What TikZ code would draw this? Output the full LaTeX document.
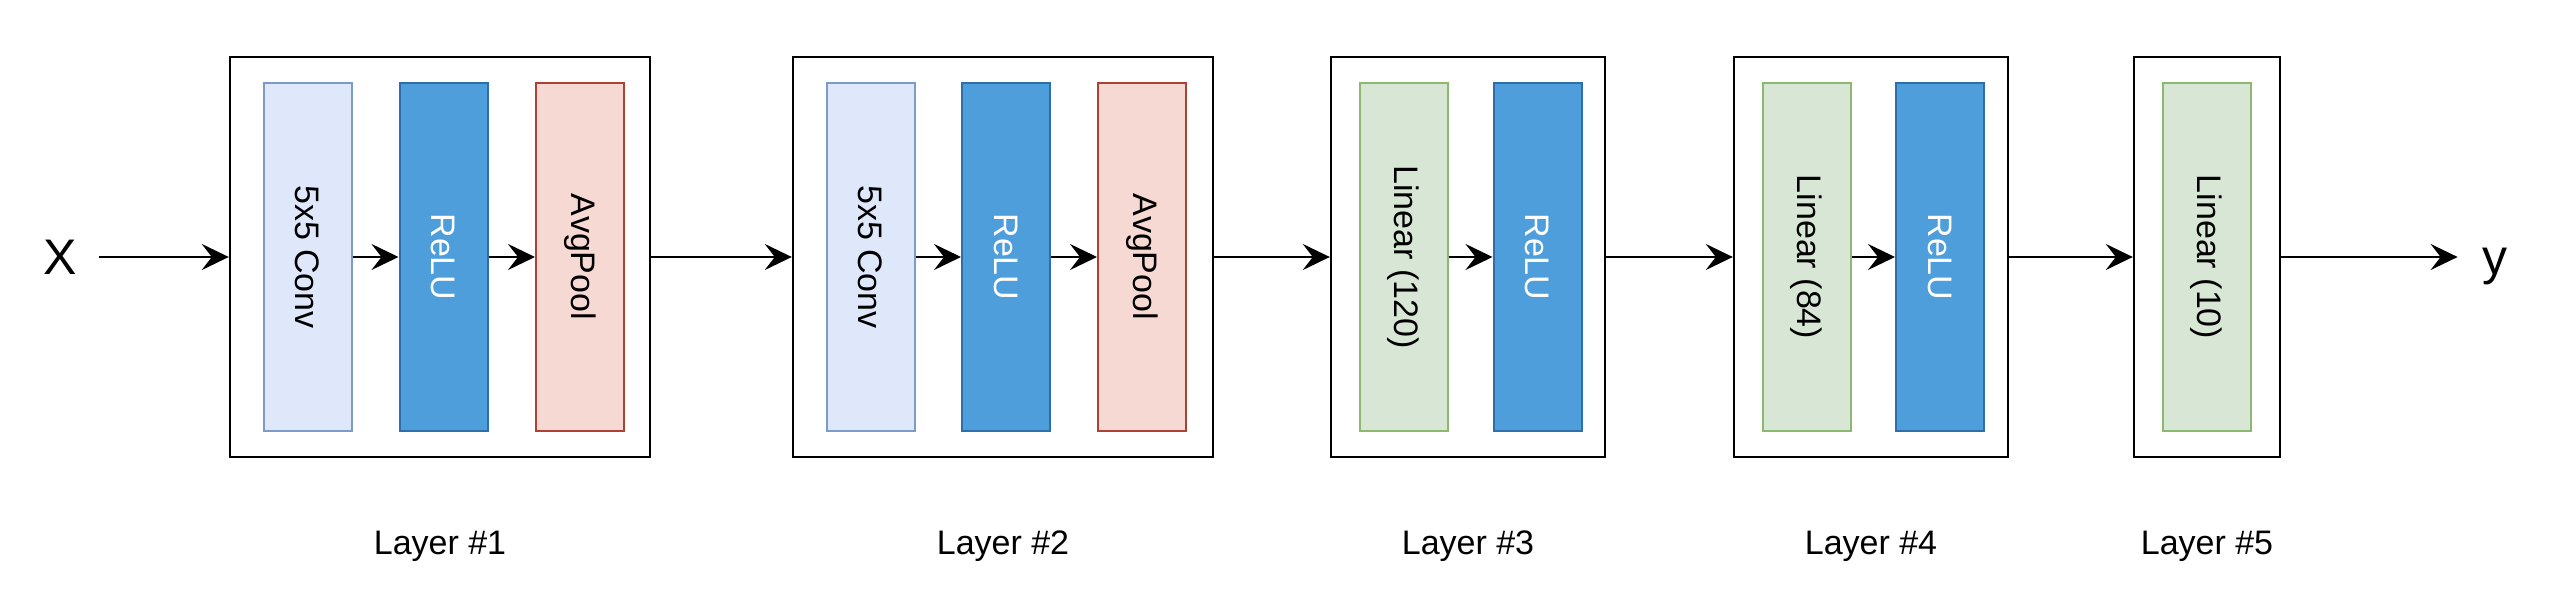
\documentclass[tikz,border=0pt]{standalone}
\usepackage{fontspec}
\setmainfont{Liberation Sans}
\usetikzlibrary{arrows.meta,calc}

\definecolor{convfill}{HTML}{DEE8FA}
\definecolor{convline}{HTML}{7D9BC8}
\definecolor{relufill}{HTML}{4E9EDC}
\definecolor{reluline}{HTML}{2E6EAA}
\definecolor{poolfill}{HTML}{F7D9D4}
\definecolor{poolline}{HTML}{AE4132}
\definecolor{fcfill}{HTML}{D8E7D5}
\definecolor{fcline}{HTML}{8CB96E}

\begin{document}
\begin{tikzpicture}[x=0.5pt,y=-0.5pt,
                    layerbox/.style={draw,line width=1.2pt,minimum height=200pt,inner sep=0pt},
                    block/.style={draw,line width=1pt,minimum width=44pt,minimum height=173.5pt,inner sep=0pt,font=\fontsize{17}{20}\selectfont},
                    convblock/.style={block,fill=convfill,draw=convline},
                    relublock/.style={block,fill=relufill,draw=reluline,text=white},
                    poolblock/.style={block,fill=poolfill,draw=poolline},
                    fcblock/.style={block,fill=fcfill,draw=fcline},
                    io/.style={inner sep=0pt,text height=17.9pt,text depth=0pt,font=\fontsize{25}{30}\selectfont},
                    caption/.style={inner sep=0pt,font=\fontsize{17}{20}\selectfont},
                    conn/.style={-{Stealth[length=13.5pt,width=13pt,inset=5pt]},line width=1.2pt}
]
\useasboundingbox (0,0) rectangle (2552,614);

\node [layerbox,minimum width=210pt] at (440,257) (l1) {};
\node [layerbox,minimum width=210pt] at (1003,257) (l2) {};
\node [layerbox,minimum width=137pt] at (1468,257) (l3) {};
\node [layerbox,minimum width=137pt] at (1871,257) (l4) {};
\node [layerbox,minimum width=73pt] at (2207,257) (l5) {};

\node [convblock] at (307.5,257) (conv1) {\rotatebox{-90}{5x5 Conv}};
\node [relublock] at (443.5,257) (relu1) {\rotatebox{-90}{ReLU}};
\node [poolblock] at (580,257) (pool1) {\rotatebox{-90}{AvgPool}};
\node [convblock] at (870.5,257) (conv2) {\rotatebox{-90}{5x5 Conv}};
\node [relublock] at (1006,257) (relu2) {\rotatebox{-90}{ReLU}};
\node [poolblock] at (1142,257) (pool2) {\rotatebox{-90}{AvgPool}};
\node [fcblock] at (1403.5,257) (fc3) {\rotatebox{-90}{Linear (120)}};
\node [relublock] at (1537.5,257) (relu3) {\rotatebox{-90}{ReLU}};
\node [fcblock] at (1806.5,257) (fc4) {\rotatebox{-90}{Linear (84)}};
\node [relublock] at (1940,257) (relu4) {\rotatebox{-90}{ReLU}};
\node [fcblock] at (2206.5,257) (fc5) {\rotatebox{-90}{Linear (10)}};

\node [io,minimum width=39pt] at (60,257) (x) {X};
\node [io,minimum width=37pt] at (2495,257) (y) {y};

\node [caption] at ($(l1.south)+(0,88)$) (cap1) {Layer \#1};
\node [caption] at ($(l2.south)+(0,88)$) (cap2) {Layer \#2};
\node [caption] at ($(l3.south)+(0,88)$) (cap3) {Layer \#3};
\node [caption] at ($(l4.south)+(0,88)$) (cap4) {Layer \#4};
\node [caption] at ($(l5.south)+(0,88)$) (cap5) {Layer \#5};

\draw [conn] (x) -- (l1);
\draw [conn] (conv1) -- (relu1);
\draw [conn] (relu1) -- (pool1);
\draw [conn] (l1) -- (l2);
\draw [conn] (conv2) -- (relu2);
\draw [conn] (relu2) -- (pool2);
\draw [conn] (l2) -- (l3);
\draw [conn] (fc3) -- (relu3);
\draw [conn] (l3) -- (l4);
\draw [conn] (fc4) -- (relu4);
\draw [conn] (l4) -- (l5);
\draw [conn] (l5) -- (y);

\end{tikzpicture}
\end{document}
